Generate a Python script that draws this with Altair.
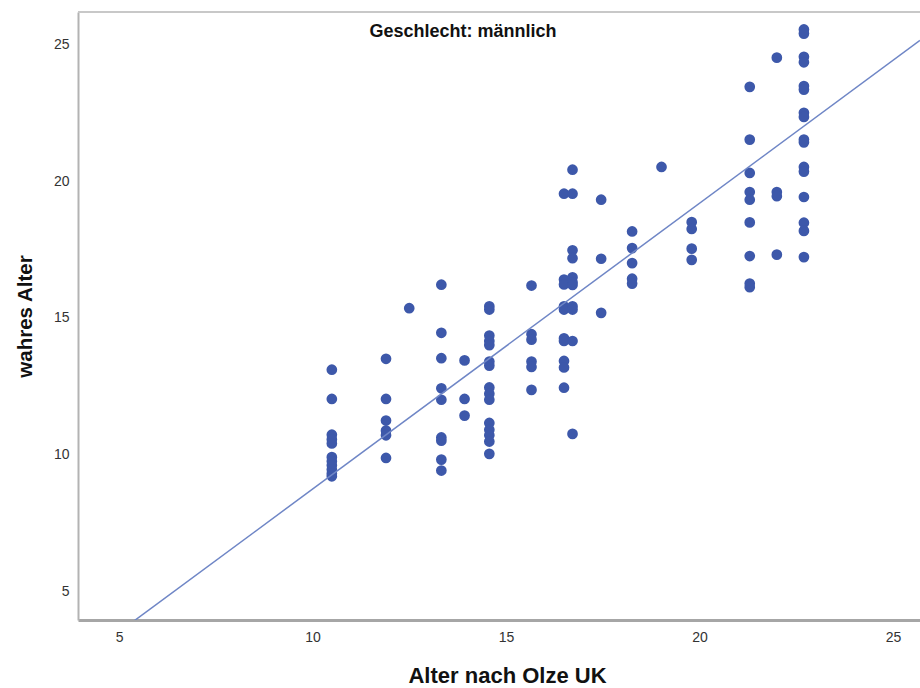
import altair as alt
import pandas as pd

# Olze stage ages (x) and the true ages observed at each stage (y), male subgroup
olze_10_5 = [13.1, 12.03, 10.72, 10.55, 10.4, 9.9, 9.75, 9.6, 9.45, 9.3, 9.2]
olze_11_9 = [13.5, 12.03, 11.24, 10.87, 10.7, 9.87]
olze_12_5 = [15.35]
olze_13_3 = [16.21, 14.45, 13.52, 12.42, 12.0, 10.62, 10.5, 9.81, 9.41]
olze_13_9 = [13.44, 12.03, 11.42]
olze_14_6 = [15.42, 15.3, 14.35, 14.15, 14.0, 13.4, 13.25, 12.45, 12.22, 12.0,
             11.15, 10.9, 10.7, 10.47, 10.02]
olze_15_7 = [16.18, 14.4, 14.2, 13.4, 13.2, 12.36]
olze_16_5 = [19.54, 16.4, 16.22, 15.42, 15.3, 14.25, 14.15, 13.42, 13.18, 12.44]
olze_16_7 = [20.42, 19.54, 17.47, 17.18, 16.48, 16.3, 16.2, 15.42, 15.3, 14.15, 10.75]
olze_17_5 = [19.32, 17.16, 15.18]
olze_18_3 = [18.16, 17.55, 17.0, 16.43, 16.25]
olze_19_0 = [20.52]
olze_19_8 = [18.5, 18.25, 17.53, 17.12]
olze_21_3 = [23.45, 21.52, 20.3, 19.6, 19.32, 18.49, 17.26, 16.25, 16.12]
olze_22_0 = [24.52, 19.6, 19.45, 17.31]
olze_22_7 = [25.55, 25.4, 24.55, 24.35, 23.48, 23.35, 22.5, 22.35, 21.52, 21.42,
             20.52, 20.35, 19.42, 18.48, 18.18, 17.22]

stage_ages = [10.5, 11.9, 12.5, 13.33, 13.93, 14.57, 15.66, 16.5, 16.72,
              17.46, 18.26, 19.02, 19.8, 21.3, 22.0, 22.7]
stage_true_ages = [olze_10_5, olze_11_9, olze_12_5, olze_13_3, olze_13_9, olze_14_6,
                   olze_15_7, olze_16_5, olze_16_7, olze_17_5, olze_18_3, olze_19_0,
                   olze_19_8, olze_21_3, olze_22_0, olze_22_7]

# Linear fit line (total)
fit_slope = 1.046
fit_intercept = -1.73

x_domain = [3.94, 25.7]
y_domain = [3.94, 26.19]
tick_values = [5, 10, 15, 20, 25]
panel_label = ["Geschlecht: männlich"]

rows = [{"olze": x, "wahr": y}
        for x, ys in zip(stage_ages, stage_true_ages) for y in ys]
points_df = pd.DataFrame(rows)
fit_df = pd.DataFrame({"olze": x_domain})
label_df = pd.DataFrame({"label": panel_label})
top_df = pd.DataFrame({"wahr": [y_domain[1]]})

FONT = "Liberation Sans"

x_scale = alt.Scale(domain=x_domain, nice=False, zero=False)
y_scale = alt.Scale(domain=y_domain, nice=False, zero=False)

x_axis = alt.Axis(
    values=tick_values, grid=False, ticks=False, labelPadding=10,
    labelFont=FONT, labelFontSize=14, labelColor="#333333",
    domainColor="#a6a6a6", domainWidth=3,
    title="Alter nach Olze UK", titleFont=FONT, titleFontSize=22,
    titleFontWeight="bold", titleColor="#111111",
    titleX=429, titleY=62, titleBaseline="alphabetic", titleAlign="center",
)
y_axis = alt.Axis(
    values=tick_values, grid=False, ticks=False, labelPadding=9,
    labelFont=FONT, labelFontSize=14, labelColor="#333333",
    domainColor="#b3b3b3", domainWidth=2,
    title="wahres Alter", titleFont=FONT, titleFontSize=20.5,
    titleFontWeight="bold", titleColor="#111111",
    titleX=-53, titleY=304, titleBaseline="middle", titleAlign="center",
)

points = alt.Chart(points_df).mark_circle(
    size=115, opacity=1, color="#3d58aa"
).encode(
    x=alt.X("olze:Q", scale=x_scale, axis=x_axis),
    y=alt.Y("wahr:Q", scale=y_scale, axis=y_axis),
)

fit_line = alt.Chart(fit_df).transform_calculate(
    wahr=f"{fit_intercept} + {fit_slope} * datum.olze"
).mark_line(color="#6f86c6", strokeWidth=1.5, clip=True).encode(
    x=alt.X("olze:Q", scale=x_scale),
    y=alt.Y("wahr:Q", scale=y_scale),
)

top_border = alt.Chart(top_df).mark_rule(color="#c8c8c8", strokeWidth=2).encode(
    y=alt.Y("wahr:Q", scale=y_scale),
)

title_text = alt.Chart(label_df).mark_text(
    font=FONT, fontSize=18, fontWeight="bold", color="#111111",
    align="center", baseline="middle",
).encode(
    text="label:N",
    x=alt.value(385),
    y=alt.value(19.5),
)

chart = alt.layer(points, fit_line, top_border, title_text).properties(
    width=842,
    height=608,
    autosize=alt.AutoSizeParams(type="none"),
    padding={"left": 78, "top": 12, "right": 0, "bottom": 68},
    background="white",
).configure_view(strokeWidth=0)

chart.save("out.html", embed_options={"renderer": "svg", "actions": False})
